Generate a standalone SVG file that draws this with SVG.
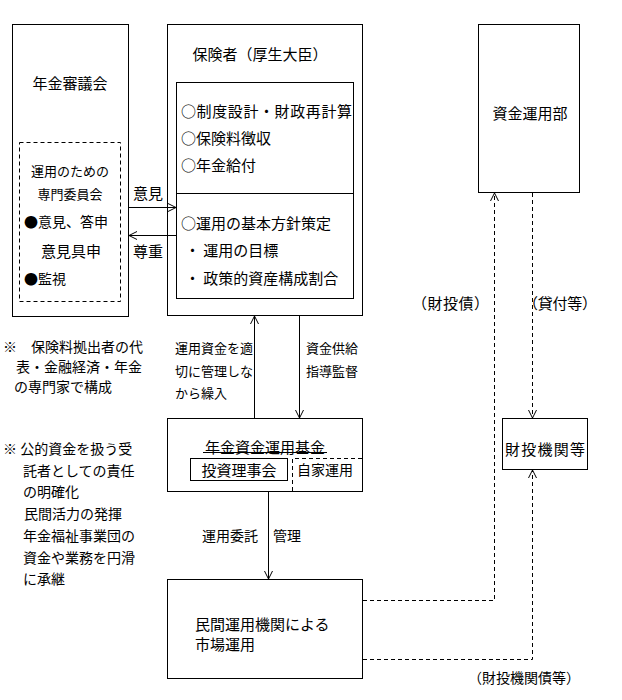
<svg xmlns="http://www.w3.org/2000/svg" width="622" height="700" viewBox="0 0 622 700">
<style>
.b{fill:#fff;stroke:#000;stroke-width:1}
.n{fill:none;stroke:#000;stroke-width:1}
.d{fill:none;stroke:#000;stroke-width:1;stroke-dasharray:4 3}
text{font-family:"Noto Sans CJK JP","Noto Sans CJK SC",sans-serif;fill:#000;dominant-baseline:central}
.f15{font-size:15px}
.f14{font-size:14px}
.f13{font-size:13px}
.m{text-anchor:middle}
</style>
<defs>
<marker id="ah" viewBox="0 0 8 10" refX="8" refY="5" markerWidth="8" markerHeight="10" markerUnits="userSpaceOnUse" orient="auto">
<path d="M0,1 L8,5 L0,9" fill="none" stroke="#000" stroke-width="1"/>
</marker>
</defs>
<rect width="622" height="700" fill="#fff"/>

<g id="shingikai">
<rect class="b" x="12.5" y="24.5" width="116" height="292"/>
<text class="f15 m" x="70" y="82">年金審議会</text>
<rect class="d" x="19.5" y="142.5" width="101" height="159"/>
<text class="f13 m" x="70" y="170">運用のための</text>
<text class="f13 m" x="70" y="193">専門委員会</text>
<text class="f14" x="24" y="221">●意見、答申</text>
<text class="f15 m" x="71" y="250">意見具申</text>
<text class="f14" x="24" y="278">●監視</text>
</g>

<g id="hokensha">
<rect class="b" x="167.5" y="24.5" width="195" height="291"/>
<text class="f15 m" x="260" y="53">保険者（厚生大臣）</text>
<rect class="b" x="176.5" y="82.5" width="177" height="216"/>
<line class="n" x1="176.5" y1="193.5" x2="353.5" y2="193.5"/>
<text class="f15" x="181" y="110" textLength="171">○制度設計・財政再計算</text>
<text class="f15" x="181" y="137">○保険料徴収</text>
<text class="f15" x="181" y="164">○年金給付</text>
<text class="f15" x="181" y="222">○運用の基本方針策定</text>
<text class="f15" x="185" y="249">・ 運用の目標</text>
<text class="f15" x="185" y="277">・ 政策的資産構成割合</text>
</g>

<g id="shikin-unyobu">
<rect class="b" x="478.5" y="24.5" width="101" height="168"/>
<text class="f15 m" x="530" y="112">資金運用部</text>
</g>

<g id="zaito-kikan">
<rect class="b" x="502.5" y="418.5" width="85" height="51"/>
<text class="f15 m" x="545" y="448" textLength="80">財投機関等</text>
</g>

<g id="kikin">
<rect class="b" x="167.5" y="418.5" width="195" height="73"/>
<text class="f15 m" x="265" y="446">年金資金運用基金</text>
<line class="n" x1="203" y1="452.5" x2="327" y2="452.5"/>
<rect class="b" x="190.5" y="458.5" width="97" height="22"/>
<text class="f15 m" x="239" y="469">投資理事会</text>
<polyline class="d" points="292.5,491 292.5,458.5 362,458.5"/>
<text class="f14" x="297" y="469">自家運用</text>
</g>

<g id="minkan">
<rect class="b" x="167.5" y="579.5" width="195" height="99"/>
<text class="f15" x="195" y="623">民間運用機関による</text>
<text class="f15" x="195" y="643">市場運用</text>
</g>

<g id="notes">
<text class="f14" x="3" y="346">※　保険料拠出者の代</text>
<text class="f14" x="16" y="366">表・金融経済・年金</text>
<text class="f14" x="14" y="386">の専門家で構成</text>
<text class="f14" x="3" y="448">※ 公的資金を扱う受</text>
<text class="f14" x="23" y="470">託者としての責任</text>
<text class="f14" x="23" y="491">の明確化</text>
<text class="f14" x="24" y="513">民間活力の発揮</text>
<text class="f14" x="23" y="535">年金福祉事業団の</text>
<text class="f14" x="23" y="557">資金や業務を円滑</text>
<text class="f14" x="23" y="578">に承継</text>
</g>

<g id="connectors">
<line class="n" x1="128.5" y1="207.5" x2="176" y2="207.5" marker-end="url(#ah)"/>
<text class="f15" x="133" y="192">意見</text>
<line class="n" x1="176" y1="235.5" x2="129" y2="235.5" marker-end="url(#ah)"/>
<text class="f15" x="133" y="250">尊重</text>

<line class="n" x1="254.5" y1="418" x2="254.5" y2="316" marker-end="url(#ah)"/>
<text class="f13" x="175" y="347">運用資金を適</text>
<text class="f13" x="175" y="370">切に管理しな</text>
<text class="f13" x="175" y="392">から繰入</text>
<line class="n" x1="299.5" y1="316" x2="299.5" y2="418" marker-end="url(#ah)"/>
<text class="f13" x="306" y="347">資金供給</text>
<text class="f13" x="306" y="370">指導監督</text>

<line class="n" x1="268.5" y1="492" x2="268.5" y2="579" marker-end="url(#ah)"/>
<text class="f14" x="202" y="535">運用委託</text>
<text class="f14" x="273" y="535">管理</text>

<polyline class="d" points="363,600.5 494.5,600.5 494.5,193" marker-end="url(#ah)"/>
<text class="f15" x="412" y="302" textLength="77">（財投債）</text>
<line class="d" x1="532.5" y1="193" x2="532.5" y2="418" marker-end="url(#ah)"/>
<text class="f15" x="523" y="302" textLength="74">（貸付等）</text>
<polyline class="d" points="363,659.5 532.5,659.5 532.5,470" marker-end="url(#ah)"/>
<text class="f14" x="468" y="677" textLength="112">（財投機関債等）</text>
</g>
</svg>
